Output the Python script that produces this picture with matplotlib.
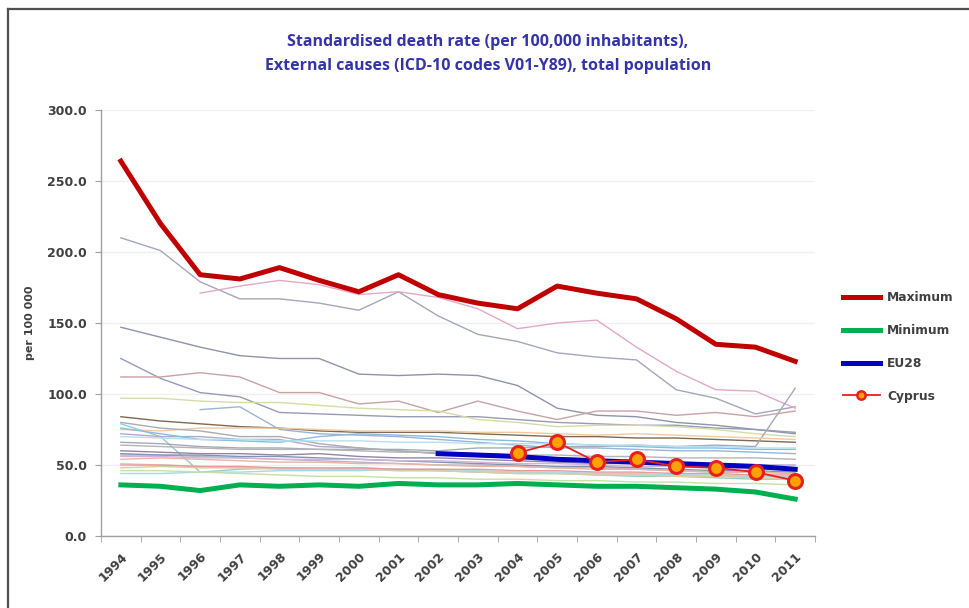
import numpy as np
import matplotlib
matplotlib.use("Agg")
import matplotlib.pyplot as plt
from matplotlib.lines import Line2D

nan = np.nan
years = [str(y) for y in range(1994, 2012)]

maximum = [264, 220, 184, 181, 189, 180, 172, 184, 170, 164, 160, 176, 171, 167, 153, 135, 133, 123]
minimum = [36, 35, 32, 36, 35, 36, 35, 37, 36, 36, 37, 36, 35, 35, 34, 33, 31, 26]
eu28 = [nan, nan, nan, nan, nan, nan, nan, nan, 58, 57, 56, 54, 53, 52, 51, 50, 49, 47]
cyprus = [nan, nan, nan, nan, nan, nan, nan, nan, nan, nan, 58.5, 66, 52, 54, 49, 48, 45, 39]

countries = [
    [210, 201, 179, 167, 167, 164, 159, 172, 155, 142, 137, 129, 126, 124, 103, 97, 86, 91],
    [nan, nan, 171, 176, 180, 177, 170, 172, 168, 160, 146, 150, 152, 133, 116, 103, 102, 90],
    [147, 140, 133, 127, 125, 125, 114, 113, 114, 113, 106, 90, 85, 84, 80, 78, 75, 72],
    [125, 111, 101, 98, 87, 86, 85, 84, 84, 84, 82, 80, 79, 78, 78, 76, 75, 73],
    [112, 112, 115, 112, 101, 101, 93, 95, 87, 95, 88, 82, 88, 88, 85, 87, 84, 88],
    [97, 97, 95, 94, 94, 92, 90, 89, 88, 82, 80, 77, 78, 78, 77, 75, 72, 70],
    [nan, nan, 89, 91, 75, 72, 71, 70, 68, 66, 64, 62, 62, 61, 60, 60, 59, 58],
    [84, 81, 79, 77, 76, 74, 73, 73, 73, 72, 71, 70, 70, 69, 69, 68, 67, 66],
    [79, 70, 45, 47, 48, 47, 48, 47, 46, 45, 44, 44, 43, 42, 42, 41, 40, 40],
    [72, 70, 70, 68, 68, 63, 62, 60, 58, 57, 56, 55, 54, 53, 52, 51, 50, 50],
    [66, 65, 63, 62, 62, 61, 61, 61, 60, 62, 62, 63, 63, 64, 63, 64, 63, 104],
    [75, 74, 76, 76, 76, 75, 74, 74, 74, 73, 73, 72, 71, 72, 71, 70, 69, 68],
    [57, 57, 56, 55, 54, 53, 52, 51, 50, 50, 49, 48, 48, 47, 46, 45, 45, 44],
    [51, 50, 49, 48, 48, 47, 47, 46, 46, 45, 45, 44, 44, 43, 43, 42, 42, 41],
    [44, 44, 45, 45, 46, 46, 46, 47, 47, 46, 45, 45, 44, 44, 43, 43, 42, 42],
    [46, 46, 45, 44, 43, 42, 42, 41, 41, 40, 40, 39, 39, 38, 38, 37, 37, 36],
    [58, 57, 57, 56, 56, 55, 54, 53, 52, 51, 50, 49, 49, 48, 47, 46, 46, 45],
    [60, 59, 58, 58, 57, 58, 56, 55, 55, 54, 53, 52, 51, 51, 50, 50, 49, 48],
    [76, 72, 68, 67, 66, 70, 72, 71, 70, 68, 67, 65, 64, 63, 62, 62, 61, 61],
    [80, 76, 74, 70, 70, 65, 62, 60, 58, 56, 55, 53, 52, 51, 50, 49, 48, 47],
    [54, 55, 54, 53, 52, 52, 51, 51, 50, 49, 49, 48, 47, 47, 46, 45, 45, 44],
    [48, 49, 48, 48, 47, 47, 47, 46, 46, 45, 44, 44, 43, 43, 42, 42, 41, 40],
    [50, 50, 49, 49, 48, 48, 48, 47, 47, 47, 46, 46, 45, 45, 44, 44, 43, 43],
    [64, 63, 62, 61, 61, 61, 60, 59, 59, 58, 57, 57, 56, 56, 55, 55, 55, 54],
    [70, 69, 68, 68, 67, 67, 67, 66, 66, 65, 65, 65, 64, 64, 63, 63, 62, 62],
    [56, 56, 55, 55, 54, 54, 54, 53, 53, 52, 51, 51, 50, 49, 49, 48, 47, 47],
]
country_colors = ['#a4a6bc', '#e3a8c8', '#8e94aa', '#959cb8', '#c9a2a2', '#d6dca8',
                  '#9ab4d6', '#7d6a52', '#98cccc', '#b4a6d2', '#a2aaba', '#f0caa4',
                  '#bab2cc', '#f0c2c2', '#a4dae2', '#c4e2a4', '#7e94b2', '#9484a4',
                  '#86bce2', '#acacac', '#e8b4a4', '#dacca4', '#e89a9a', '#b4b4b4',
                  '#b4e0f0', '#d2b4da']

W, H = 969, 608
fig = plt.figure(figsize=(W / 100, H / 100), dpi=100)
fig.patch.set_facecolor('white')

# frame of the chart object
fig.add_artist(Line2D([8 / W, 8 / W], [0, 1 - 9 / H], transform=fig.transFigure,
                      color='#505050', lw=1.6))
fig.add_artist(Line2D([8 / W, 1], [1 - 9 / H, 1 - 9 / H], transform=fig.transFigure,
                      color='#505050', lw=1.6))

ax = fig.add_axes([101 / W, 72 / H, (815 - 101) / W, (536 - 110) / H])
x = np.arange(len(years))

for vals, c in zip(countries, country_colors):
    ax.plot(x, vals, color=c, lw=1.0, zorder=2)

ax.plot(x, maximum, color='#c00000', lw=3.6, solid_joinstyle='round', zorder=4)
ax.plot(x, minimum, color='#00b050', lw=3.6, solid_joinstyle='round', zorder=4)
ax.plot(x, eu28, color='#0000c0', lw=3.6, solid_joinstyle='round', zorder=5)
ax.plot(x, cyprus, color='#e8201a', lw=1.3, marker='o', markersize=10,
        markerfacecolor='#ffa200', markeredgecolor='#e8201a', markeredgewidth=2.2,
        zorder=6)

ax.set_xlim(-0.5, len(years) - 0.5)
ax.set_ylim(0, 300)
ax.set_yticks(np.arange(0, 301, 50))
ax.set_yticklabels([f'{v:.1f}' for v in np.arange(0, 301, 50)])
ax.grid(axis='y', color='#f0f0f0', lw=1.0, zorder=0)
ax.set_axisbelow(True)

ax.set_xticks(x)
ax.set_xticklabels(years, rotation=45, ha='right', va='top', rotation_mode='anchor')
ax.set_xticks(np.arange(-0.5, len(years)), minor=True)
ax.tick_params(axis='x', which='major', length=0, pad=10)
ax.tick_params(axis='x', which='minor', length=4, color='#a0a0a0')
ax.tick_params(axis='y', length=4, color='#a0a0a0', pad=6)
for lab in ax.get_xticklabels() + ax.get_yticklabels():
    lab.set_fontweight('bold')
    lab.set_color('#404040')
    lab.set_fontsize(9)

for s in ['top', 'right']:
    ax.spines[s].set_visible(False)
for s in ['left', 'bottom']:
    ax.spines[s].set_color('#a0a0a0')
    ax.spines[s].set_linewidth(1.0)

ax.set_ylabel('per 100 000', fontsize=8, fontweight='bold', color='#404040', labelpad=9)

fig.text(488 / W, 1 - 42 / H, 'Standardised death rate (per 100,000 inhabitants),',
         ha='center', va='center', fontsize=11.5, fontweight='bold', color='#3434a8',
         family='Open Sans')
fig.text(488 / W, 1 - 66 / H, 'External causes (ICD-10 codes V01-Y89), total population',
         ha='center', va='center', fontsize=11.5, fontweight='bold', color='#3434a8',
         family='Open Sans')

handles = [
    Line2D([], [], color='#c00000', lw=3.6),
    Line2D([], [], color='#00b050', lw=3.6),
    Line2D([], [], color='#0000c0', lw=3.6),
    Line2D([], [], color='#e8201a', lw=1.3, marker='o', markersize=6,
           markerfacecolor='#ffa200', markeredgecolor='#e8201a', markeredgewidth=1.8),
]
labels = ['Maximum', 'Minimum', 'EU28', 'Cyprus']
leg = fig.legend(handles, labels, loc='center left', bbox_to_anchor=(832 / W, 1 - 347 / H),
                 frameon=False, handlelength=3.0, handletextpad=0.6, labelspacing=1.62,
                 prop={'size': 8.8, 'weight': 'bold'})
for t in leg.get_texts():
    t.set_color('#404040')

fig.savefig('out.png', dpi=100, facecolor='white')
